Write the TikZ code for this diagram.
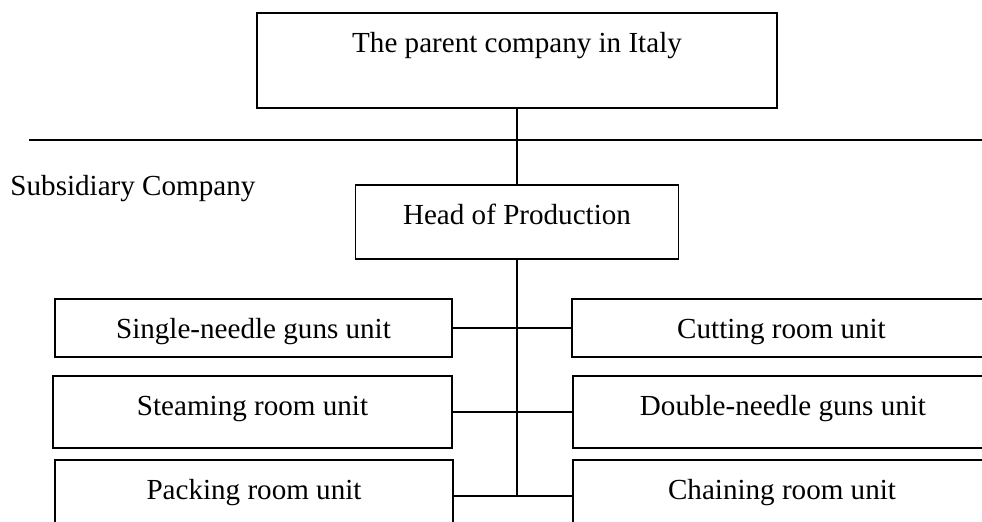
\documentclass[tikz,border=0pt]{standalone}
\usepackage{fontspec}
\setmainfont{Liberation Serif}
\usetikzlibrary{positioning}
\newlength{\px}
\setlength{\px}{0.4124pt}

\begin{document}
\begin{tikzpicture}[x=0.4124pt,y=-0.4124pt,font=\fontsize{12}{14}\selectfont,
  box/.style={draw,line width=0.8pt,fill=white,align=center,inner xsep=0pt,inner ysep=19\px,text height=20\px},
  link/.style={line width=0.7pt}]
\useasboundingbox (0,0) rectangle (982,521);
\clip (0,0) rectangle (982,521);
% parent level
\node[box,minimum width=520\px,text depth=37\px] (parent) at (517,60.5) {The parent company in Italy};
\coordinate (divL) at (29,140);
\coordinate (divR) at (990,140);
\draw[link] (divL) -- (divR);
\node[anchor=base west,inner sep=0pt] (subsid) at (10,195) {Subsidiary Company};
\node[box,minimum width=323\px,text depth=16\px] (head) at (517,222) {Head of Production};
% units
\node[box,minimum width=397\px,text depth=0\px] (single) at (253.5,328) {Single-needle guns unit};
\node[box,minimum width=399\px,text depth=14\px] (steam) at (252.5,412) {Steaming room unit};
\node[box,minimum width=398\px,text depth=14\px] (pack) at (254,496) {Packing room unit};
\node[box,minimum width=419\px,text depth=0\px] (cut) at (781.5,328) {Cutting room unit};
\node[box,minimum width=420\px,text depth=14\px] (double) at (783,412) {Double-needle guns unit};
\node[box,minimum width=418\px,text depth=14\px] (chain) at (782,496) {Chaining room unit};
\coordinate (trunkend) at (517,496);
% connectors
\draw[link] (parent.south) -- (head.north);
\draw[link] (head.south) -- (trunkend);
\draw[link] (single.east) -- (cut.west);
\draw[link] (steam.east) -- (double.west);
\draw[link] (pack.east) -- (chain.west);
\end{tikzpicture}
\end{document}
